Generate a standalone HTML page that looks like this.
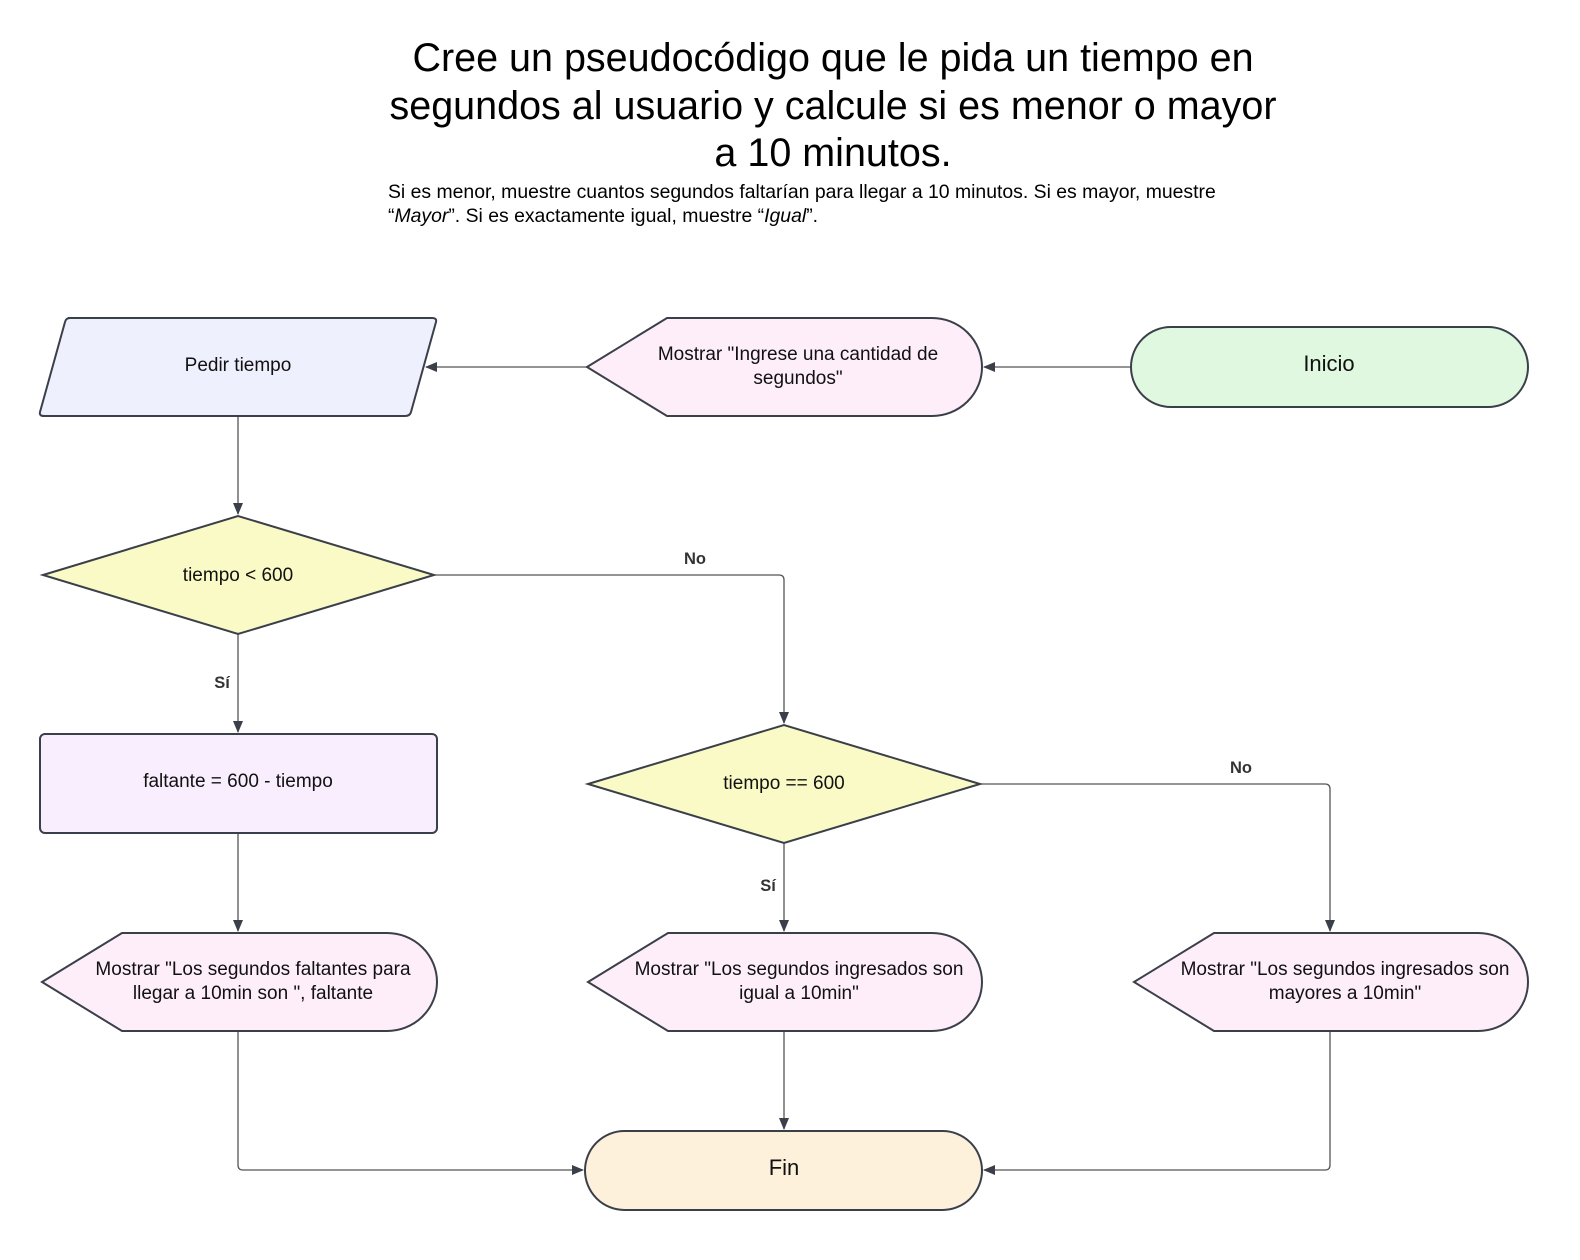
<!DOCTYPE html>
<html><head><meta charset="utf-8"><style>
body{margin:0;background:#fff;}
svg{display:block;font-family:"Liberation Sans",sans-serif;}
</style></head><body>
<svg width="1580" height="1260" viewBox="0 0 1580 1260" xmlns="http://www.w3.org/2000/svg">
<defs><marker id="a" markerWidth="12" markerHeight="10" refX="11" refY="5" orient="auto" markerUnits="userSpaceOnUse"><path d="M0,0 L12,5 L0,10 Z" fill="#3a3f4a"/></marker></defs>
<g text-anchor="middle" fill="#000" font-size="39.5">
<text x="833" y="71">Cree un pseudocódigo que le pida un tiempo en</text>
<text x="833" y="119">segundos al usuario y calcule si es menor o mayor</text>
<text x="833" y="166">a 10 minutos.</text>
</g>
<g font-size="19.4" fill="#000">
<text x="388" y="198">Si es menor, muestre cuantos segundos faltarían para llegar a 10 minutos. Si es mayor, muestre</text>
<text x="388" y="222">“<tspan font-style="italic">Mayor</tspan>”. Si es exactamente igual, muestre “<tspan font-style="italic">Igual</tspan>”.</text>
</g>
<g fill="none" stroke="#555" stroke-width="1.3">
<path d="M1131,367 H984" marker-end="url(#a)"/>
<path d="M587,367 H426" marker-end="url(#a)"/>
<path d="M238,416 V514" marker-end="url(#a)"/>
<path d="M238,634 V732" marker-end="url(#a)"/>
<path d="M434,575 H779 Q784,575 784,580 V723" marker-end="url(#a)"/>
<path d="M238,833 V931" marker-end="url(#a)"/>
<path d="M784,843 V931" marker-end="url(#a)"/>
<path d="M980,784 H1325 Q1330,784 1330,789 V931" marker-end="url(#a)"/>
<path d="M784,1031 V1129" marker-end="url(#a)"/>
<path d="M238,1031 V1165 Q238,1170 243,1170 H583" marker-end="url(#a)"/>
<path d="M1330,1031 V1165 Q1330,1170 1325,1170 H984" marker-end="url(#a)"/>
</g>
<g stroke="#3a3f4a" stroke-width="2">
<rect x="1131" y="327" width="397" height="80" rx="40" fill="#e0f8e0"/>
<path d="M587,367 L667,318 H932 A50,49 0 0 1 932,416 H667 Z" fill="#fdeefa"/>
<path d="M68,318 H432 Q437,318 436,322 L411,412 Q410,416 405,416 H44 Q39,416 40,412 L65,322 Q66,318 70,318 Z" fill="#eff0fd"/>
<path d="M43,575 L238,516 L434,575 L238,634 Z" fill="#fafac6"/>
<rect x="40" y="734" width="397" height="99" rx="5" fill="#f8eefd"/>
<path d="M588,784 L784,725 L980,784 L784,843 Z" fill="#fafac6"/>
<path d="M42,982 L122,933 H387 A50,49 0 0 1 387,1031 H122 Z" fill="#fdeefa"/>
<path d="M588,982 L668,933 H932 A50,49 0 0 1 932,1031 H668 Z" fill="#fdeefa"/>
<path d="M1134,982 L1214,933 H1478 A50,49 0 0 1 1478,1031 H1214 Z" fill="#fdeefa"/>
<rect x="585" y="1131" width="397" height="79" rx="39.5" fill="#fdf1dc"/>
</g>
<g text-anchor="middle" font-size="19" fill="#111">
<text x="1329" y="371" font-size="22">Inicio</text>
<text x="798" y="360">Mostrar "Ingrese una cantidad de</text>
<text x="798" y="384">segundos"</text>
<text x="238" y="371">Pedir tiempo</text>
<text x="238" y="581">tiempo &lt; 600</text>
<text x="238" y="787">faltante = 600 - tiempo</text>
<text x="784" y="789">tiempo == 600</text>
<text x="253" y="975">Mostrar "Los segundos faltantes para</text>
<text x="253" y="999">llegar a 10min son ", faltante</text>
<text x="799" y="975">Mostrar "Los segundos ingresados son</text>
<text x="799" y="999">igual a 10min"</text>
<text x="1345" y="975">Mostrar "Los segundos ingresados son</text>
<text x="1345" y="999">mayores a 10min"</text>
<text x="784" y="1175" font-size="22">Fin</text>
</g>
<g text-anchor="middle" font-size="16.5" font-weight="bold" fill="#333">
<text x="695" y="564">No</text>
<text x="222" y="688">Sí</text>
<text x="1241" y="773">No</text>
<text x="768" y="891">Sí</text>
</g>
</svg>
</body></html>
